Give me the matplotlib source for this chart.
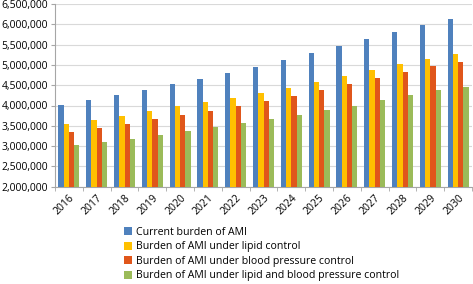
import numpy as np
import matplotlib.pyplot as plt
from matplotlib.ticker import FuncFormatter

# values
years = [str(y) for y in range(2016, 2031)]
current = [4003000, 4126000, 4250000, 4381000, 4529000, 4660000, 4800000, 4947000,
           5112000, 5284000, 5456000, 5637000, 5818000, 5990000, 6122000]
lipid = [3543000, 3634000, 3741000, 3856000, 3979000, 4085000, 4184000, 4307000,
         4430000, 4578000, 4726000, 4882000, 5021000, 5153000, 5268000]
bp = [3346000, 3453000, 3543000, 3658000, 3765000, 3872000, 3987000, 4110000,
      4233000, 4381000, 4521000, 4668000, 4824000, 4964000, 5071000]
both = [3018000, 3092000, 3174000, 3273000, 3371000, 3470000, 3560000, 3658000,
        3757000, 3888000, 3995000, 4126000, 4258000, 4381000, 4455000]

labels = ["Current burden of AMI",
          "Burden of AMI under lipid control",
          "Burden of AMI under blood pressure control",
          "Burden of AMI under lipid and blood pressure control"]
colors = ["#4F81BD", "#FFC000", "#E0561B", "#9BBB59"]

plt.rcParams['font.family'] = ['Open Sans', 'DejaVu Sans']

fig = plt.figure(figsize=(4.73, 2.84), dpi=100)
ax = fig.add_axes([55 / 473, 1 - 186.7 / 284, 417 / 473, 182.7 / 284])

x = np.arange(len(years))
w = 0.19
for i, (vals, c, lab) in enumerate(zip([current, lipid, bp, both], colors, labels)):
    ax.bar(x + (i - 1.5) * w, vals, w, color=c, label=lab, zorder=3)

ax.set_xlim(-0.5, len(years) - 0.5)
ax.set_ylim(2000000, 6500000)
ax.set_yticks(np.arange(2000000, 6500001, 500000))
ax.yaxis.set_major_formatter(FuncFormatter(lambda v, p: f"{int(v):,}"))
ax.grid(axis='y', color='#D9D9D9', linewidth=0.8, zorder=0)

ax.set_xticks(x)
ax.set_xticklabels(years, rotation=45, ha='right', rotation_mode='anchor', fontsize=7.5)
ax.set_xticks(np.arange(-0.5, len(years), 1), minor=True)
ax.tick_params(axis='x', which='major', length=0, pad=4)
ax.tick_params(axis='x', which='minor', length=3, color='#A6A6A6')
ax.tick_params(axis='y', labelsize=7.5, length=3, color='#A6A6A6', pad=2)

for s in ['top', 'right']:
    ax.spines[s].set_visible(False)
for s in ['left', 'bottom']:
    ax.spines[s].set_color('#A6A6A6')
    ax.spines[s].set_linewidth(0.8)

ax.legend(loc='upper left', bbox_to_anchor=(124 / 473, 1 - 227 / 284), bbox_transform=fig.transFigure,
          frameon=False, fontsize=7.6, handlelength=0.8, handleheight=0.8,
          handletextpad=0.3, labelspacing=0.33, borderaxespad=0, borderpad=0)

plt.savefig("out.png", dpi=100)
